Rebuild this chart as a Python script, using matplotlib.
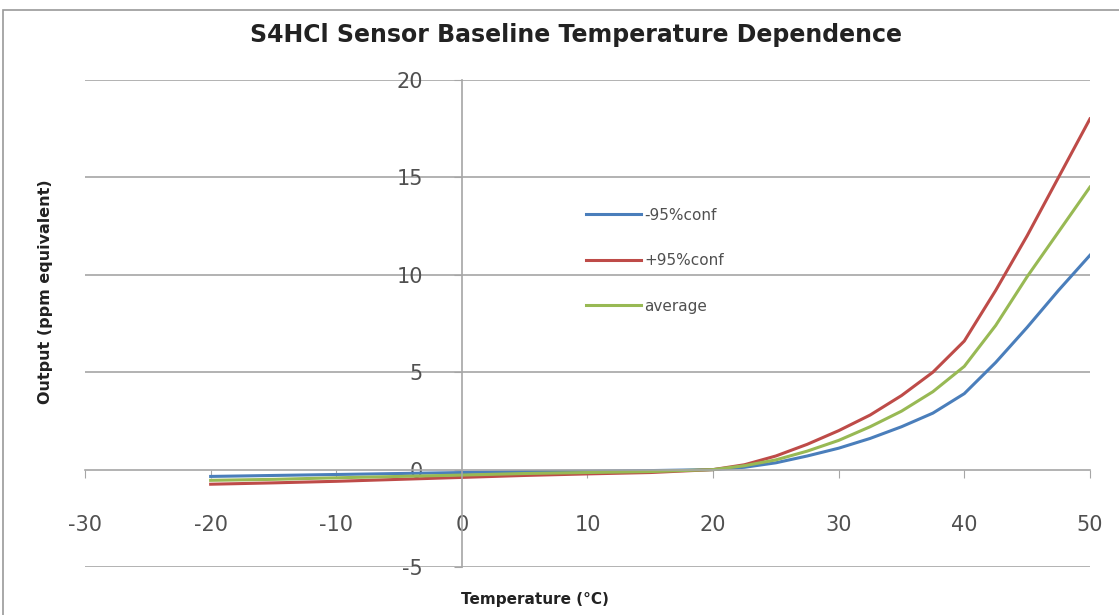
import matplotlib.pyplot as plt
from matplotlib.patches import Rectangle

plt.rcParams['axes.unicode_minus'] = False

# Temperature (deg C) and sensor output (ppm equivalent)
temps = [-20, -15, -10, -5, 0, 5, 10, 15, 20, 22.5, 25, 27.5, 30, 32.5,
         35, 37.5, 40, 42.5, 45, 47.5, 50]
lower_conf = [-0.35, -0.3, -0.25, -0.2, -0.15, -0.1, -0.08, -0.05, 0.0, 0.12,
              0.35, 0.7, 1.1, 1.6, 2.2, 2.9, 3.9, 5.5, 7.3, 9.2, 11.0]
upper_conf = [-0.75, -0.68, -0.6, -0.5, -0.4, -0.3, -0.22, -0.15, 0.0, 0.25,
              0.7, 1.3, 2.0, 2.8, 3.8, 5.0, 6.6, 9.2, 12.0, 15.0, 18.0]
average = [-0.55, -0.5, -0.42, -0.35, -0.28, -0.2, -0.15, -0.1, 0.0, 0.2,
           0.5, 0.95, 1.5, 2.2, 3.0, 4.0, 5.3, 7.4, 9.9, 12.2, 14.5]

x_ticks = [-30, -20, -10, 0, 10, 20, 30, 40, 50]
y_ticks = [-5, 0, 5, 10, 15, 20]

grid_col = '#a6a6a6'
text_col = '#505050'

fig = plt.figure(figsize=(11.19, 6.15), dpi=100)
# outer chart frame (Excel style)
fig.patches.append(Rectangle((3 / 1119, -0.01), 1.2, 1 - 10 / 615 + 0.01,
                             transform=fig.transFigure, fill=False,
                             edgecolor='#9a9a9a', linewidth=1.2))
ax = fig.add_axes([0.076, 0.078, 0.898, 0.792])

ax.plot(temps, lower_conf, color='#4a7ebb', linewidth=2.2, label='-95%conf')
ax.plot(temps, upper_conf, color='#be4b48', linewidth=2.2, label='+95%conf')
ax.plot(temps, average, color='#98b954', linewidth=2.2, label='average')

ax.set_xlim(-30, 50)
ax.set_ylim(-5, 20)
ax.set_xticks(x_ticks)
ax.set_yticks(y_ticks)

# horizontal gridlines only, axes cross at zero
for yv in y_ticks:
    if yv != 0:
        ax.axhline(yv, color=grid_col, linewidth=1.2, zorder=0)
for side in ['top', 'right']:
    ax.spines[side].set_visible(False)
ax.spines['bottom'].set_position(('data', 0))
ax.spines['left'].set_position(('data', 0))
ax.spines['bottom'].set_color(grid_col)
ax.spines['left'].set_color(grid_col)
ax.spines['bottom'].set_linewidth(1.2)
ax.spines['left'].set_linewidth(1.2)

ax.tick_params(axis='x', direction='out', length=6, color=grid_col,
               labelsize=15, labelcolor=text_col, pad=27)
ax.tick_params(axis='y', direction='out', length=6, color=grid_col,
               labelsize=15, labelcolor=text_col, pad=22)

ax.legend(loc='upper left', bbox_to_anchor=(0.485, 0.766), frameon=False,
          fontsize=11, handlelength=3.6, handletextpad=0.2,
          labelspacing=2.0, labelcolor=text_col)

fig.text(0.515, 0.943, 'S4HCl Sensor Baseline Temperature Dependence',
         ha='center', va='center', fontsize=17, fontweight='bold',
         color='#222222')
fig.text(0.041, 0.525, 'Output (ppm equivalent)', rotation=90,
         ha='center', va='center', fontsize=11.5, fontweight='bold',
         color='#222222')
fig.text(0.478, 0.025, 'Temperature (\u00b0C)', ha='center', va='center',
         fontsize=11, fontweight='bold', color='#222222')

plt.savefig('out.png', dpi=100)
plt.close()
